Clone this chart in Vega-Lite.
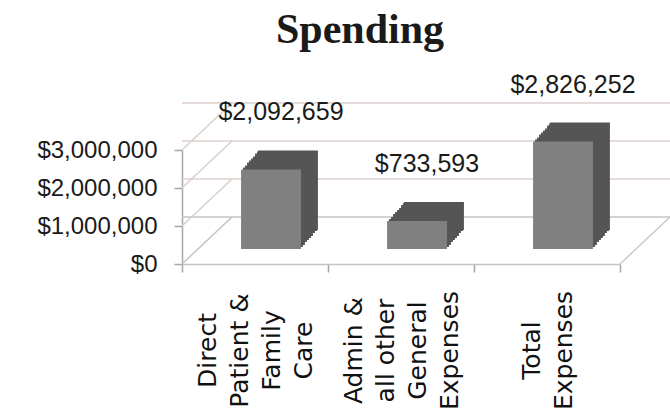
{
  "$schema": "https://vega.github.io/schema/vega-lite/v6.json",
  "width": 438,
  "height": 114,
  "autosize": {"type": "none"},
  "padding": {"left": 182, "top": 150, "right": 50, "bottom": 151},
  "background": "white",
  "config": {
    "view": {"stroke": null},
    "font": "Liberation Sans",
    "axisX": {
      "title": null,
      "labelAngle": -90,
      "labelAlign": "center",
      "labelBaseline": "middle",
      "labelExpr": "split(datum.label, '|')",
      "labelFont": "DejaVu Sans",
      "labelFontSize": 25,
      "labelLineHeight": 32,
      "labelColor": "#111111",
      "labelPadding": 78,
      "labelLimit": 0,
      "labelOverlap": false,
      "tickBand": "extent",
      "tickSize": 8,
      "tickColor": "#a6a6a6",
      "tickWidth": 1.5,
      "domainColor": "#c4c4c4",
      "domainWidth": 1.5,
      "grid": false
    },
    "axisY": {
      "title": null,
      "grid": false,
      "domainColor": "#a6a6a6",
      "domainWidth": 1.5,
      "tickColor": "#a6a6a6",
      "tickWidth": 1.5,
      "tickSize": 8,
      "labelPadding": 17,
      "labelFont": "Liberation Sans",
      "labelFontSize": 24,
      "labelColor": "#1a1a1a",
      "format": "$,.0f",
      "tickCount": 4
    }
  },
  "title": {
    "text": "Spending",
    "font": "Liberation Serif",
    "fontSize": 42,
    "fontWeight": "bold",
    "color": "#1a1a1a",
    "anchor": "middle",
    "frame": "group",
    "dx": -41,
    "baseline": "alphabetic",
    "offset": -12
  },
  "datasets": {
    "spend": [
      {"category": "Direct|Patient &|Family|Care", "amount": 2092659},
      {"category": "Admin &|all other|General|Expenses", "amount": 733593},
      {"category": "Total|Expenses", "amount": 2826252}
    ],
    "grid": [{"v": 0}, {"v": 1000000}, {"v": 2000000}, {"v": 3000000}]
  },
  "data": {"name": "spend"},
  "layer": [
    {
      "data": {"name": "grid"},
      "mark": {"type": "rule", "strokeWidth": 1.5, "xOffset": 50, "x2Offset": 50, "yOffset": -47, "y2Offset": -47},
      "encoding": {
        "y": {"field": "v", "type": "quantitative", "title": null},
        "color": {"condition": {"test": "datum.v === 0", "value": "#c4c4c4"}, "value": "#dccfcb"}
      }
    },
    {
      "data": {"name": "grid"},
      "mark": {"type": "rule", "strokeWidth": 1.5, "x2Offset": 50, "y2Offset": -47},
      "encoding": {
        "x": {"datum": "Direct|Patient &|Family|Care", "type": "nominal", "bandPosition": 0, "title": null},
        "x2": {"datum": "Direct|Patient &|Family|Care", "bandPosition": 0},
        "y": {"field": "v", "type": "quantitative", "title": null},
        "y2": {"field": "v"},
        "color": {"condition": {"test": "datum.v === 0", "value": "#c4c4c4"}, "value": "#dccfcb"}
      }
    },
    {
      "data": {"values": [{"edge": "right"}]},
      "mark": {"type": "rule", "strokeWidth": 1.5, "color": "#d0c8c6", "x2Offset": 50, "y2Offset": -47},
      "encoding": {
        "x": {"datum": "Total|Expenses", "type": "nominal", "bandPosition": 1, "title": null},
        "x2": {"datum": "Total|Expenses", "bandPosition": 1},
        "y": {"datum": 0, "type": "quantitative", "title": null},
        "y2": {"datum": 0}
      }
    },
    {"mark": {"type": "bar", "color": "#555555", "width": {"band": 0.41}, "xOffset": 33, "x2Offset": 33, "yOffset": -34, "y2Offset": -34}, "encoding": {"x": {"field": "category", "type": "nominal", "title": null}, "y": {"field": "amount", "type": "quantitative", "title": null}}},
    {"mark": {"type": "bar", "color": "#555555", "width": {"band": 0.41}, "xOffset": 32, "x2Offset": 32, "yOffset": -33, "y2Offset": -33}, "encoding": {"x": {"field": "category", "type": "nominal", "title": null}, "y": {"field": "amount", "type": "quantitative", "title": null}}},
    {"mark": {"type": "bar", "color": "#555555", "width": {"band": 0.41}, "xOffset": 30, "x2Offset": 30, "yOffset": -31, "y2Offset": -31}, "encoding": {"x": {"field": "category", "type": "nominal", "title": null}, "y": {"field": "amount", "type": "quantitative", "title": null}}},
    {"mark": {"type": "bar", "color": "#555555", "width": {"band": 0.41}, "xOffset": 28, "x2Offset": 28, "yOffset": -28, "y2Offset": -28}, "encoding": {"x": {"field": "category", "type": "nominal", "title": null}, "y": {"field": "amount", "type": "quantitative", "title": null}}},
    {"mark": {"type": "bar", "color": "#555555", "width": {"band": 0.41}, "xOffset": 26, "x2Offset": 26, "yOffset": -26, "y2Offset": -26}, "encoding": {"x": {"field": "category", "type": "nominal", "title": null}, "y": {"field": "amount", "type": "quantitative", "title": null}}},
    {"mark": {"type": "bar", "color": "#555555", "width": {"band": 0.41}, "xOffset": 24, "x2Offset": 24, "yOffset": -24, "y2Offset": -24}, "encoding": {"x": {"field": "category", "type": "nominal", "title": null}, "y": {"field": "amount", "type": "quantitative", "title": null}}},
    {"mark": {"type": "bar", "color": "#555555", "width": {"band": 0.41}, "xOffset": 22, "x2Offset": 22, "yOffset": -22, "y2Offset": -22}, "encoding": {"x": {"field": "category", "type": "nominal", "title": null}, "y": {"field": "amount", "type": "quantitative", "title": null}}},
    {"mark": {"type": "bar", "color": "#555555", "width": {"band": 0.41}, "xOffset": 20, "x2Offset": 20, "yOffset": -19, "y2Offset": -19}, "encoding": {"x": {"field": "category", "type": "nominal", "title": null}, "y": {"field": "amount", "type": "quantitative", "title": null}}},
    {"mark": {"type": "bar", "color": "#555555", "width": {"band": 0.41}, "xOffset": 18, "x2Offset": 18, "yOffset": -17, "y2Offset": -17}, "encoding": {"x": {"field": "category", "type": "nominal", "title": null}, "y": {"field": "amount", "type": "quantitative", "title": null}}},
    {
      "mark": {"type": "bar", "color": "#808080", "width": {"band": 0.41}, "xOffset": 16, "x2Offset": 16, "yOffset": -15, "y2Offset": -15},
      "encoding": {
        "x": {
          "field": "category",
          "type": "nominal",
          "title": null,
          "scale": {
            "domain": ["Direct|Patient &|Family|Care", "Admin &|all other|General|Expenses", "Total|Expenses"],
            "paddingInner": 0,
            "paddingOuter": 0
          },
          "axis": {
            "labelOffset": {"condition": {"test": "datum.value === 'Total|Expenses'", "value": -16}, "value": -48}
          }
        },
        "y": {
          "field": "amount",
          "type": "quantitative",
          "title": null,
          "scale": {"domain": [0, 3000000], "nice": false},
          "axis": {"values": [0, 1000000, 2000000, 3000000]}
        }
      }
    },
    {
      "mark": {"type": "text", "font": "Liberation Sans", "fontSize": 25, "color": "#1a1a1a", "align": "center", "baseline": "middle", "dx": 26, "dy": -72},
      "encoding": {
        "x": {"field": "category", "type": "nominal", "title": null},
        "y": {"field": "amount", "type": "quantitative", "title": null},
        "text": {"field": "amount", "type": "quantitative", "format": "$,.0f"}
      }
    }
  ]
}
